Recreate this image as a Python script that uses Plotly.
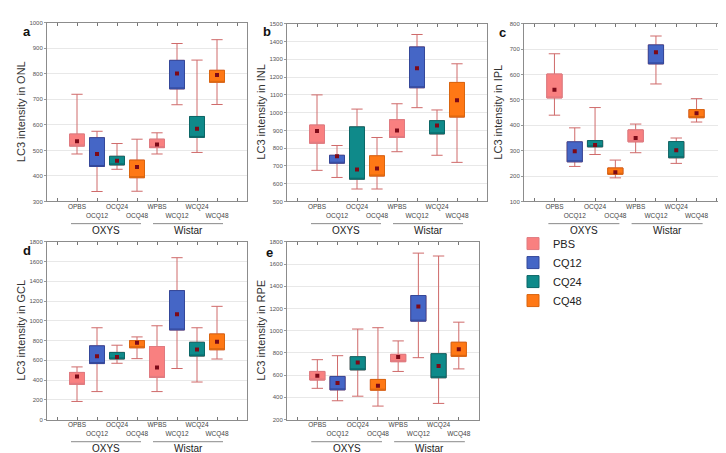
import plotly.graph_objects as go

W, H = 726, 453

categories = ["OPBS", "OCQ12", "OCQ24", "OCQ48", "WPBS", "WCQ12", "WCQ24", "WCQ48"]
treatments = ["PBS", "CQ12", "CQ24", "CQ48"]
groups = ["OXYS", "Wistar"]

# ONL (a)
onl_low = [486, 339, 426, 340, 486, 679, 492, 680]
onl_q1 = [517, 437, 443, 393, 511, 741, 551, 767]
onl_q3 = [564, 550, 477, 462, 544, 853, 633, 814]
onl_high = [720, 575, 527, 544, 569, 919, 854, 934]
onl_mid = [536, 486, 459, 435, 523, 801, 585, 796]

# INL (b)
inl_low = [675, 635, 570, 570, 780, 1028, 760, 720]
inl_q1 = [828, 715, 625, 643, 860, 1140, 880, 975]
inl_q3 = [930, 760, 920, 757, 960, 1370, 955, 1170]
inl_high = [1100, 815, 1020, 860, 1050, 1440, 1015, 1275]
inl_mid = [897, 755, 680, 685, 900, 1250, 928, 1070]

# IPL (c)
ipl_low = [440, 238, 285, 193, 292, 563, 250, 413]
ipl_q1 = [508, 256, 315, 207, 335, 642, 272, 430]
ipl_q3 = [602, 335, 340, 232, 382, 717, 336, 462]
ipl_high = [682, 390, 470, 263, 405, 752, 350, 505]
ipl_mid = [540, 298, 322, 215, 350, 688, 302, 448]

# GCL (d)
gcl_low = [183, 283, 570, 617, 283, 517, 380, 613]
gcl_q1 = [357, 567, 613, 727, 427, 907, 643, 707]
gcl_q3 = [477, 747, 680, 800, 740, 1307, 783, 867]
gcl_high = [533, 930, 753, 837, 950, 1640, 930, 1147]
gcl_mid = [437, 640, 633, 777, 527, 1067, 710, 787]

# RPE (e)
rpe_low = [481, 369, 410, 321, 633, 757, 345, 656]
rpe_q1 = [556, 467, 647, 464, 721, 1086, 576, 769]
rpe_q3 = [633, 588, 766, 561, 787, 1317, 793, 896]
rpe_high = [739, 775, 1015, 1027, 908, 1699, 1673, 1077]
rpe_mid = [594, 529, 713, 505, 763, 1219, 683, 834]

fills = ["#f98080", "#4566c6", "#0f8a8a", "#ff7815"]
borders = ["#e07a80", "#34489a", "#0b6767", "#d9650f"]
whisker = "#cf6a6a"
dot = "#7d0a18"
font = "Arial, Liberation Sans, sans-serif"

# (letter, layer, data, xpix, ypix, yrange, dtick, xmax, letter pos)
panels = [
    ("a", "ONL", (onl_low, onl_q1, onl_q3, onl_high, onl_mid), (39, 239), (12, 193), (300, 1000), 100, 8.5, (19, 21)),
    ("b", "INL", (inl_low, inl_q1, inl_q3, inl_high, inl_mid), (279, 479), (13, 193), (500, 1500), 100, 8.5, (259, 21)),
    ("c", "IPL", (ipl_low, ipl_q1, ipl_q3, ipl_high, ipl_mid), (516, 719), (13, 193), (100, 800), 100, 8.5, (495, 22)),
    ("d", "GCL", (gcl_low, gcl_q1, gcl_q3, gcl_high, gcl_mid), (39, 239), (234, 414), (0, 1800), 200, 8.5, (19, 243)),
    ("e", "RPE", (rpe_low, rpe_q1, rpe_q3, rpe_high, rpe_mid), (279, 471), (234, 414), (200, 1800), 200, 8.0, (261, 245)),
]

fig = go.Figure()
annotations = []
shapes = []
layout = {}

for i, (letter, layer, (low, q1, q3, high, mid), xp, yp, yr, dt, xmax, lp) in enumerate(panels):
    n = "" if i == 0 else str(i + 1)
    xa, ya = "x" + n, "y" + n
    for j in range(4):
        idx = [j, j + 4]
        # whiskers
        fig.add_trace(go.Box(
            x=idx, q1=[q1[k] for k in idx], median=[q1[k] for k in idx],
            q3=[q3[k] for k in idx], lowerfence=[low[k] for k in idx],
            upperfence=[high[k] for k in idx], width=0.75, whiskerwidth=0.75,
            fillcolor="rgba(0,0,0,0)", line=dict(color=whisker, width=1),
            boxpoints=False, showlegend=False, hoverinfo="skip", xaxis=xa, yaxis=ya))
        # box
        fig.add_trace(go.Box(
            x=idx, q1=[q1[k] for k in idx], median=[q1[k] for k in idx],
            q3=[q3[k] for k in idx], lowerfence=[q1[k] for k in idx],
            upperfence=[q3[k] for k in idx], width=0.75, whiskerwidth=0,
            fillcolor=fills[j], line=dict(color=borders[j], width=1),
            boxpoints=False, name=treatments[j], showlegend=(i == 0),
            xaxis=xa, yaxis=ya))
    fig.add_trace(go.Scatter(
        x=list(range(8)), y=mid, mode="markers", showlegend=False,
        marker=dict(symbol="square", size=4, color=dot), xaxis=xa, yaxis=ya))

    ticktext = [""] + [c if k % 2 == 0 else "<br>" + c for k, c in enumerate(categories)] + [""]
    layout["xaxis" + n] = dict(
        domain=[xp[0] / W, xp[1] / W], range=[-1.5, xmax], anchor=ya,
        tickvals=list(range(-1, 9)), ticktext=ticktext, tickangle=0, ticks="inside", ticklen=3,
        tickcolor="#777", showline=True, linecolor="#8c8c8c", mirror="ticks",
        showgrid=False, zeroline=False, ticklabelstandoff=-1,
        tickfont=dict(size=6.5, color="#444", family=font))
    layout["yaxis" + n] = dict(
        domain=[1 - yp[1] / H, 1 - yp[0] / H], range=list(yr), dtick=dt, anchor=xa,
        ticks="outside", ticklen=2, tickcolor="#999", showline=True, linecolor="#8c8c8c",
        mirror=True, showgrid=True, gridcolor="#e8e8e8", zeroline=False,
        tickfont=dict(size=6, color="#555", family=font))

    bottom = yp[1]
    for g, (a0, a1) in zip(groups, [(-0.3, 3.2), (3.8, 7.3)]):
        shapes.append(dict(type="line", xref=xa, yref="paper", x0=a0, x1=a1,
                           y0=1 - (bottom + 22.5) / H, y1=1 - (bottom + 22.5) / H,
                           line=dict(color="#8a8a8a", width=1)))
        annotations.append(dict(text=g, xref=xa, yref="paper", x=(a0 + a1) / 2,
                                y=1 - (bottom + 29) / H, showarrow=False,
                                xanchor="center", yanchor="middle",
                                font=dict(size=10, color="#222", family=font)))
    annotations.append(dict(text="LC3 intensity in " + layer, xref="paper", yref="paper",
                            x=(xp[0] - 26) / W, y=1 - (yp[0] + yp[1]) / 2 / H, textangle=-90,
                            xanchor="center", yanchor="middle", showarrow=False,
                            font=dict(size=11, color="#333", family=font)))
    annotations.append(dict(text="<b>" + letter + "</b>", xref="paper", yref="paper",
                            x=lp[0] / W, y=1 - lp[1] / H, xanchor="center", yanchor="middle",
                            showarrow=False, font=dict(size=13, color="#111", family=font)))

fig.update_layout(
    width=W, height=H, margin=dict(l=0, r=0, t=0, b=0),
    paper_bgcolor="white", plot_bgcolor="white", boxmode="overlay",
    font=dict(family=font), annotations=annotations, shapes=shapes,
    legend=dict(x=505 / W, y=1 - 221 / H, xanchor="left", yanchor="top",
                font=dict(size=11, color="#222", family=font), bgcolor="rgba(0,0,0,0)"),
    **layout)

fig.write_html("out.html")
